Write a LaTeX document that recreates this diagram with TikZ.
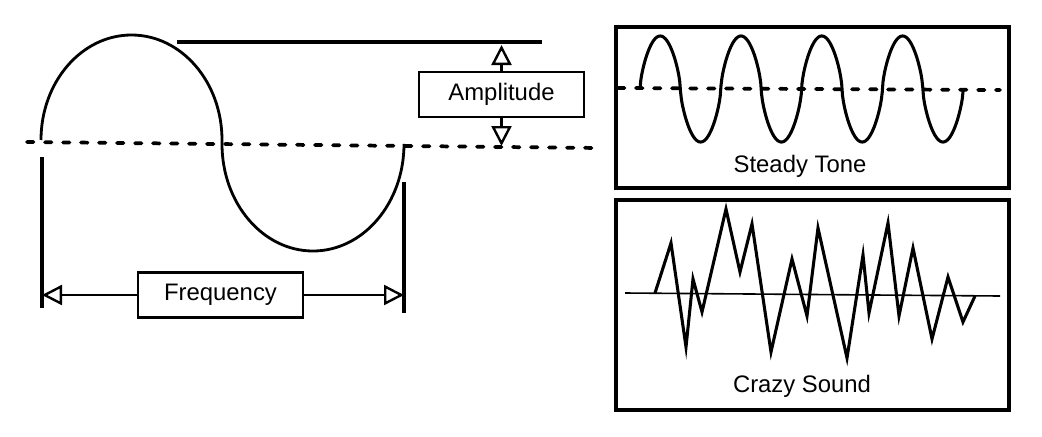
\documentclass[tikz,border=0pt]{standalone}
\usepackage{fontspec}
\setmainfont{Liberation Sans}
\usetikzlibrary{arrows.meta}
\begin{document}
\begin{tikzpicture}[x=0.75pt,y=-0.75pt,
  lbl/.style={font=\fontsize{17.9}{20}\selectfont},
  labelbox/.style={draw, line width=2.1pt, minimum width=123.75pt, minimum height=33.75pt, inner sep=0pt, lbl},
  panel/.style={draw, line width=2.4pt, inner sep=0pt},
  dashline/.style={line width=2.8pt, dash pattern=on 4.9pt off 8.6pt, line cap=round},
  curve/.style={line width=2.1pt},
  bar/.style={line width=2.6pt},
  topbar/.style={line width=3.4pt},
  tip/.style={-{Triangle[fill=white, length=15pt, width=15pt, line width=1.8pt]}, line width=1.6pt},
  zig/.style={line width=2.3pt, line join=miter},
  base/.style={line width=1.2pt}
]
\useasboundingbox (0,0) rectangle (1042,436);

% ---- left: one period ----
\coordinate (dashL) at (27,142);
\coordinate (dashR) at (600,148);
\draw[dashline] (dashL) -- (dashR);

\draw[curve] (41,140) arc[start angle=180, end angle=360, x radius=90.5, y radius=105]
  -- (222,144) arc[start angle=180, end angle=0, x radius=91, y radius=107]
  -- (404,148);

\coordinate (tlL) at (177,42);
\coordinate (tlR) at (542,42);
\draw[topbar] (tlL) -- (tlR);

\node[labelbox] (amp) at (501.5,94.5) {Amplitude};
\coordinate (ampTop) at (501.5,45);
\coordinate (ampBot) at (501.5,146);
\draw[tip] (amp.north) -- (ampTop);
\draw[tip] (amp.south) -- (ampBot);

\coordinate (barLtop) at (42,157);
\coordinate (barLbot) at (42,308);
\coordinate (barRtop) at (404,182);
\coordinate (barRbot) at (404,313);
\draw[bar] (barLtop) -- (barLbot);
\draw[bar] (barRtop) -- (barRbot);

\node[labelbox] (freq) at (220.5,295) {Frequency};
\draw[tip] (freq.west) -- (freq.west -| barLtop);
\draw[tip] (freq.east) -- (freq.east -| barRtop);

% ---- right top: steady tone ----
\node[panel, minimum width=294.75pt, minimum height=120.75pt] (steadypanel) at (812.5,107.5) {};
\coordinate (sdL) at (618,88);
\coordinate (sdR) at (1000,90);
\draw[dashline] (sdL) -- (sdR);
\draw[line width=2.3pt, line join=round] plot[domain=0:323.2, samples=400]
  ({640+\x}, {89-53*sign(sin(\x*4.4554))*pow(abs(sin(\x*4.4554)),0.65)});
\node[lbl] (steadylbl) at (800,166) {Steady Tone};

% ---- right bottom: crazy sound ----
\node[panel, minimum width=294.75pt, minimum height=157.5pt] (crazypanel) at (812.5,305) {};
\coordinate (cbL) at (625,293);
\coordinate (cbR) at (1000,296);
\draw[base] (cbL) -- (cbR);
\draw[zig] (655,293) -- (671,243) -- (686,347) -- (693,279) -- (702,312) -- (726,209)
  -- (740,272) -- (752,224) -- (771,352) -- (792,259) -- (807,316) -- (818,228)
  -- (847,358) -- (863,255) -- (869,313) -- (888,223) -- (899,316) -- (913,248)
  -- (932,339) -- (948,277) -- (963,322) -- (975,296);
\node[lbl] (crazylbl) at (802,386) {Crazy Sound};
\end{tikzpicture}
\end{document}
